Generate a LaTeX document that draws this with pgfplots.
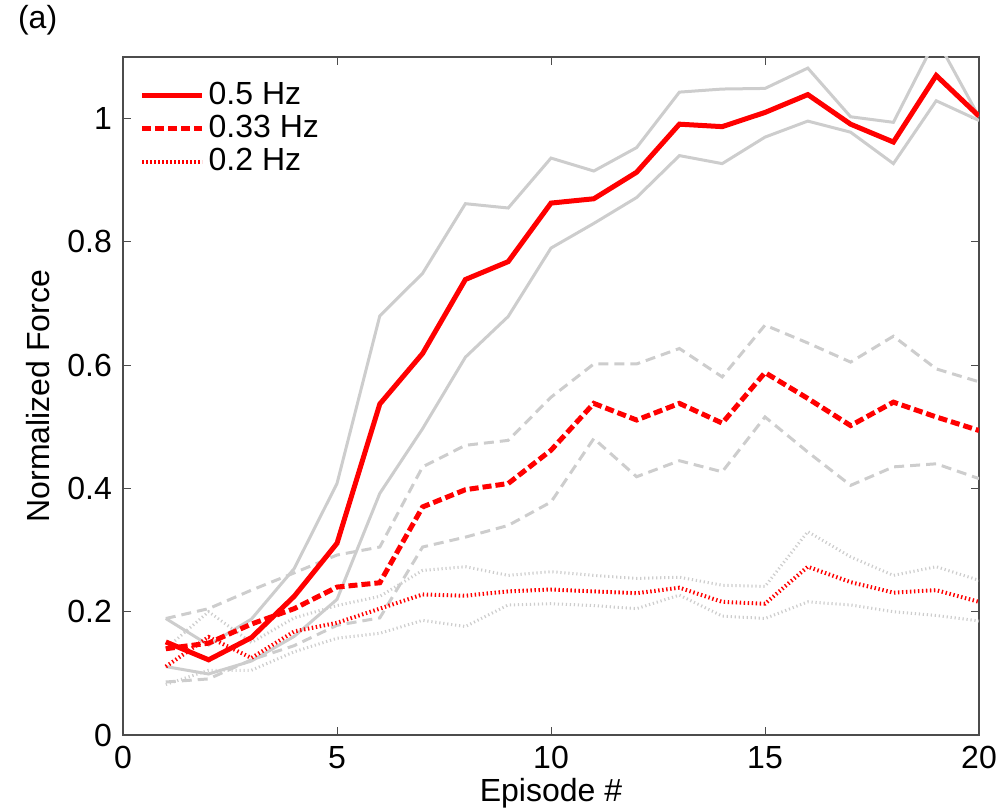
\documentclass[border=0pt]{standalone}
\usepackage{pgfplots}
\pgfplotsset{compat=1.18}
\usepackage{fontspec}
\setmainfont{Liberation Sans}
\definecolor{lg}{RGB}{205,205,205}
\begin{document}
\fontsize{16pt}{19pt}\selectfont
\begin{tikzpicture}
\begin{axis}[
  at={(0,0)}, anchor=south west,
  scale only axis, width=428pt, height=339pt,
  xmin=0, xmax=20, ymin=0, ymax=1.1,
  xtick={0,5,10,15,20},
  ytick={0,0.2,0.4,0.6,0.8,1},
  tick align=inside, tick pos=both,
  major tick length=4pt,
  tick style={black!70, line width=0.5pt},
  axis line style={black!70, line width=0.6pt},
  every tick label/.append style={font=\fontsize{16pt}{19pt}\selectfont},
  /pgf/number format/assume math mode=true,
  xlabel={Episode \#}, ylabel={Normalized Force},
  label style={font=\fontsize{16pt}{19pt}\selectfont},
  xlabel style={yshift=6pt},
  ylabel style={yshift=-2pt},
  legend style={draw=none, fill=none, at={(0.012,0.976)}, anchor=north west,
    font=\fontsize{16pt}{19pt}\selectfont, row sep=-1pt},
  legend cell align=left,
  legend image code/.code={\draw[#1] (0pt,0pt) -- (30pt,0pt);},
]
% 0.5 Hz bounds
\addplot[lg, line width=1.5pt, forget plot] coordinates {(1,0.189)(2,0.146)(3,0.188)(4,0.270)(5,0.408)(6,0.680)(7,0.749)(8,0.862)(9,0.855)(10,0.936)(11,0.915)(12,0.953)(13,1.043)(14,1.048)(15,1.049)(16,1.082)(17,1.003)(18,0.994)(19,1.13)(20,1.003)};
\addplot[lg, line width=1.5pt, forget plot] coordinates {(1,0.111)(2,0.099)(3,0.120)(4,0.160)(5,0.220)(6,0.392)(7,0.497)(8,0.613)(9,0.679)(10,0.790)(11,0.830)(12,0.872)(13,0.940)(14,0.927)(15,0.970)(16,0.996)(17,0.978)(18,0.927)(19,1.029)(20,0.997)};
% 0.33 Hz bounds
\addplot[lg, line width=1.5pt, dash pattern=on 5pt off 3pt, forget plot] coordinates {(1,0.189)(2,0.205)(3,0.235)(4,0.263)(5,0.292)(6,0.305)(7,0.435)(8,0.470)(9,0.478)(10,0.548)(11,0.602)(12,0.602)(13,0.627)(14,0.581)(15,0.665)(16,0.636)(17,0.605)(18,0.647)(19,0.594)(20,0.573)};
\addplot[lg, line width=1.5pt, dash pattern=on 5pt off 3pt, forget plot] coordinates {(1,0.086)(2,0.091)(3,0.122)(4,0.145)(5,0.178)(6,0.190)(7,0.305)(8,0.321)(9,0.340)(10,0.378)(11,0.481)(12,0.419)(13,0.445)(14,0.427)(15,0.516)(16,0.459)(17,0.405)(18,0.435)(19,0.440)(20,0.416)};
% 0.2 Hz bounds
\addplot[lg, line width=1.5pt, dash pattern=on 0.6pt off 1.4pt, forget plot] coordinates {(1,0.140)(2,0.200)(3,0.150)(4,0.190)(5,0.210)(6,0.225)(7,0.267)(8,0.273)(9,0.259)(10,0.265)(11,0.259)(12,0.254)(13,0.256)(14,0.243)(15,0.241)(16,0.330)(17,0.289)(18,0.259)(19,0.273)(20,0.251)};
\addplot[lg, line width=1.5pt, dash pattern=on 0.6pt off 1.4pt, forget plot] coordinates {(1,0.082)(2,0.105)(3,0.105)(4,0.135)(5,0.157)(6,0.165)(7,0.186)(8,0.176)(9,0.211)(10,0.213)(11,0.210)(12,0.205)(13,0.227)(14,0.193)(15,0.189)(16,0.216)(17,0.211)(18,0.200)(19,0.194)(20,0.185)};
% means
\addplot[red, line width=2.5pt] coordinates {(1,0.151)(2,0.122)(3,0.158)(4,0.225)(5,0.311)(6,0.537)(7,0.619)(8,0.739)(9,0.768)(10,0.863)(11,0.870)(12,0.913)(13,0.991)(14,0.987)(15,1.010)(16,1.039)(17,0.991)(18,0.962)(19,1.070)(20,1.004)};
\addlegendentry{0.5 Hz}
\addplot[red, line width=2.5pt, dash pattern=on 4.5pt off 2pt] coordinates {(1,0.140)(2,0.149)(3,0.180)(4,0.205)(5,0.240)(6,0.247)(7,0.370)(8,0.398)(9,0.408)(10,0.462)(11,0.538)(12,0.511)(13,0.538)(14,0.506)(15,0.588)(16,0.546)(17,0.502)(18,0.540)(19,0.516)(20,0.494)};
\addlegendentry{0.33 Hz}
\addplot[red, line width=2pt, dash pattern=on 0.7pt off 1.3pt] coordinates {(1,0.111)(2,0.159)(3,0.125)(4,0.168)(5,0.182)(6,0.205)(7,0.228)(8,0.226)(9,0.233)(10,0.236)(11,0.233)(12,0.230)(13,0.239)(14,0.216)(15,0.213)(16,0.273)(17,0.248)(18,0.231)(19,0.235)(20,0.216)};
\addlegendentry{0.2 Hz}
\end{axis}
\node[anchor=west, font=\fontsize{16pt}{19pt}\selectfont] at (-58pt,357.5pt) {(a)};
\pgfresetboundingbox
\useasboundingbox (-61.5pt,-36.5pt) rectangle (438.5pt,367.5pt);
\end{tikzpicture}
\end{document}
